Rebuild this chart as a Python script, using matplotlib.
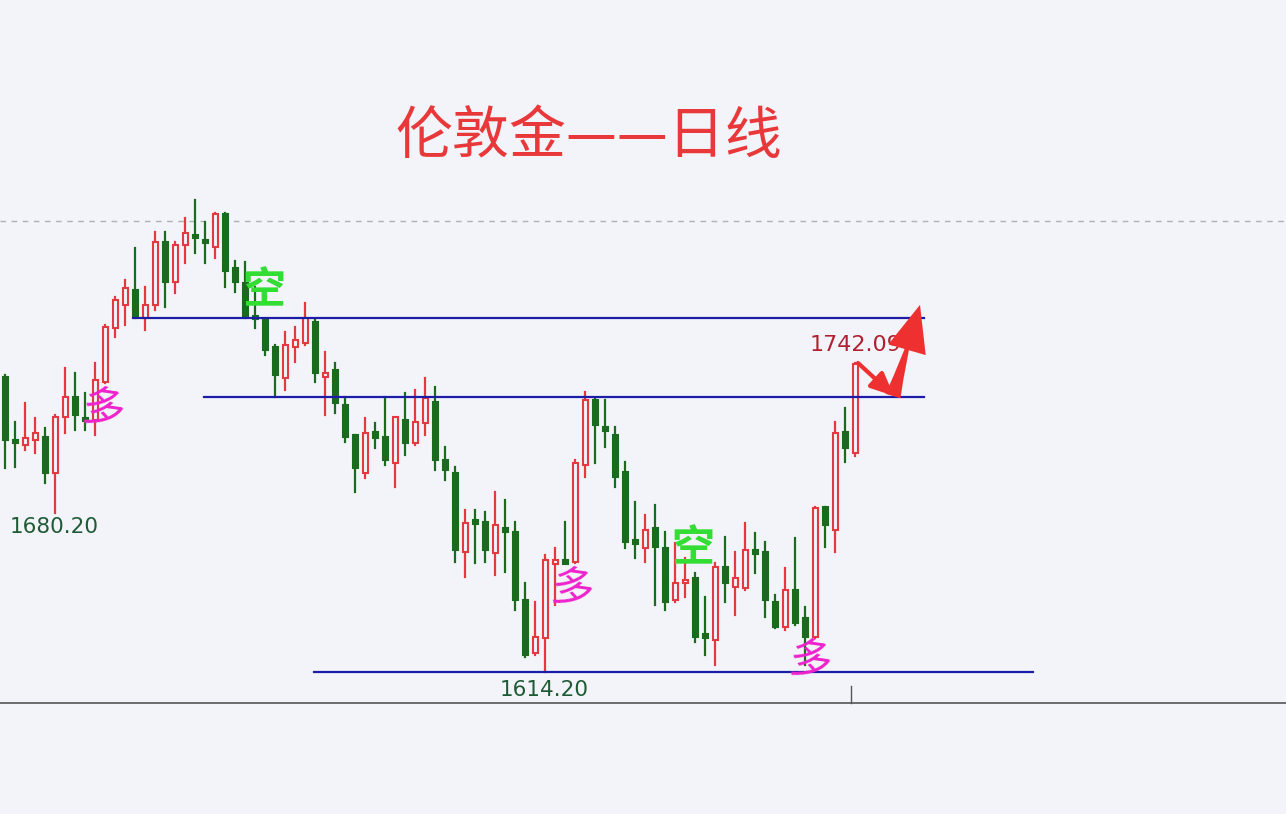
import matplotlib
matplotlib.use('Agg')
import matplotlib.pyplot as plt
from matplotlib.patches import Rectangle

plt.rcParams['font.family'] = ['Noto Sans CJK SC', 'DejaVu Sans']

# 日线 OHLC
opens = [1736.5, 1710.4, 1708.3, 1710.4, 1711.6, 1696.7, 1719.9, 1728.2, 1719.5, 1718.7,
         1734.4, 1756.8, 1766.4, 1772.6, 1761.0, 1766.4, 1792.5, 1775.9, 1791.2, 1795.4,
         1793.3, 1790.4, 1804.1, 1781.7, 1775.5, 1761.8, 1760.1, 1749.0, 1736.1, 1749.0,
         1750.6, 1759.3, 1736.9, 1739.4, 1724.9, 1712.5, 1696.7, 1713.7, 1711.6, 1700.9,
         1718.7, 1709.1, 1717.4, 1726.1, 1702.1, 1696.7, 1664.0, 1676.8, 1676.4, 1663.5,
         1673.5, 1672.2, 1644.1, 1622.1, 1628.3, 1659.4, 1660.2, 1659.8, 1700.0, 1727.0,
         1715.4, 1712.5, 1697.1, 1668.5, 1665.6, 1673.9, 1665.6, 1644.1, 1651.1, 1653.2,
         1629.5, 1627.5, 1657.7, 1649.4, 1649.0, 1664.4, 1664.0, 1643.2, 1632.9, 1648.2,
         1636.6, 1628.7, 1682.6, 1673.1, 1713.7, 1705.0]
highs = [1737.3, 1717.9, 1725.7, 1719.5, 1715.4, 1720.8, 1740.2, 1738.2, 1729.9, 1742.3,
         1758.1, 1769.7, 1776.7, 1790.0, 1773.8, 1796.6, 1796.6, 1792.5, 1802.4, 1809.9,
         1800.8, 1804.5, 1804.5, 1784.6, 1784.2, 1773.8, 1760.6, 1749.8, 1755.2, 1757.2,
         1767.2, 1760.6, 1746.9, 1742.3, 1728.2, 1712.5, 1719.5, 1717.4, 1728.2, 1719.9,
         1729.9, 1731.1, 1736.1, 1732.4, 1707.5, 1699.2, 1681.4, 1681.4, 1680.5, 1688.8,
         1685.5, 1676.4, 1651.1, 1643.2, 1662.7, 1665.6, 1676.4, 1702.1, 1730.3, 1727.8,
         1727.0, 1715.8, 1701.3, 1684.7, 1679.3, 1683.4, 1672.2, 1667.7, 1661.5, 1655.2,
         1645.3, 1659.4, 1670.2, 1664.0, 1676.0, 1671.8, 1668.1, 1646.1, 1657.3, 1669.8,
         1641.1, 1682.6, 1682.6, 1717.9, 1723.7, 1742.09]
lows = [1698.8, 1699.2, 1706.2, 1705.0, 1692.6, 1680.2, 1713.3, 1714.5, 1714.5, 1712.5,
        1734.0, 1753.1, 1758.1, 1761.0, 1756.0, 1764.3, 1765.5, 1771.3, 1783.8, 1787.9,
        1783.8, 1785.8, 1773.8, 1771.8, 1761.0, 1756.8, 1745.6, 1728.2, 1731.1, 1742.7,
        1749.8, 1734.4, 1720.8, 1721.6, 1709.6, 1688.8, 1694.6, 1707.1, 1700.0, 1690.9,
        1704.2, 1708.3, 1712.5, 1698.0, 1693.8, 1659.8, 1653.6, 1659.4, 1659.8, 1654.4,
        1655.7, 1639.9, 1620.4, 1621.2, 1614.2, 1642.0, 1659.4, 1659.4, 1695.1, 1700.9,
        1707.5, 1690.9, 1665.6, 1661.5, 1659.8, 1642.0, 1639.9, 1643.2, 1645.3, 1626.6,
        1621.2, 1617.1, 1643.2, 1637.8, 1648.2, 1655.2, 1637.0, 1632.4, 1631.6, 1633.7,
        1617.1, 1628.3, 1666.0, 1664.0, 1701.3, 1703.8]
closes = [1710.4, 1709.1, 1711.2, 1713.3, 1696.7, 1719.9, 1728.2, 1720.8, 1718.3, 1735.3,
          1757.2, 1768.4, 1773.4, 1761.4, 1766.4, 1792.5, 1775.9, 1791.2, 1796.2, 1794.1,
          1792.1, 1804.1, 1780.5, 1775.9, 1761.4, 1760.6, 1747.7, 1737.3, 1749.8, 1751.8,
          1761.0, 1738.2, 1737.8, 1725.7, 1711.6, 1698.8, 1713.3, 1711.2, 1702.1, 1719.9,
          1709.1, 1717.9, 1727.8, 1702.1, 1698.0, 1664.8, 1676.0, 1676.0, 1664.8, 1675.1,
          1672.7, 1644.1, 1621.2, 1628.7, 1660.6, 1660.2, 1659.4, 1700.9, 1727.0, 1716.6,
          1714.5, 1695.1, 1668.1, 1667.7, 1673.1, 1666.0, 1643.2, 1651.1, 1652.3, 1628.7,
          1628.7, 1657.7, 1651.1, 1653.2, 1664.8, 1663.5, 1644.1, 1632.9, 1648.2, 1634.5,
          1628.7, 1682.2, 1675.1, 1713.3, 1707.1, 1741.9]

# 水平线（支撑/压力）
levels = [1761.0, 1728.2, 1614.2]
level_start = [12.8, 19.9, 30.9]
level_end = [91.9, 91.9, 102.8]

bg = '#f2f4fa'
up_c = '#e23a3f'
dn_c = '#1b6b1f'

fig = plt.figure(figsize=(12.86, 8.14), dpi=100, facecolor=bg)
ax = fig.add_axes([0, 0, 1, 1])
ax.set_facecolor(bg)
ax.set_xlim(-0.5, 128.1)
ax.set_ylim(1555.3, 1892.8)
ax.axis('off')

w = 0.5
for i in range(len(opens)):
    o, h, l, c = opens[i], highs[i], lows[i], closes[i]
    top, bot = max(o, c), min(o, c)
    if top - bot < 1.2:
        mid = (top + bot) / 2
        top, bot = mid + 0.7, mid - 0.7
    if c >= o:
        ax.plot([i, i], [l, bot], color=up_c, lw=1.6, zorder=2)
        ax.plot([i, i], [top, h], color=up_c, lw=1.6, zorder=2)
        ax.add_patch(Rectangle((i - w / 2, bot), w, top - bot, facecolor=bg,
                               edgecolor=up_c, lw=1.5, zorder=3))
    else:
        ax.plot([i, i], [l, h], color=dn_c, lw=1.6, zorder=2)
        ax.add_patch(Rectangle((i - w / 2, bot), w, top - bot, facecolor=dn_c,
                               edgecolor=dn_c, lw=1.5, zorder=3))

# 网格虚线和底部坐标轴
ax.axhline(1801.2, color='#b0b0b0', lw=1, ls=(0, (4, 4)), zorder=1)
ax.axhline(1601.3, color='#555555', lw=1.2, zorder=1)
ax.plot([84.6, 84.6], [1601.3, 1608.4], color='#555555', lw=1)

for lv, x0, x1 in zip(levels, level_start, level_end):
    ax.plot([x0, x1], [lv, lv], color='#1c1ca8', lw=1.6, zorder=4)

# 标注
ax.text(58.4, 1836.0, '伦敦金——日线', color='#e8383a', fontsize=41,
        ha='center', va='center')
ax.text(4.9, 1674.3, '1680.20', color='#1f5a35', fontsize=15.5, ha='center', va='center',
        family=['DejaVu Sans'])
ax.text(53.9, 1606.7, '1614.20', color='#1f5a35', fontsize=15.5, ha='center', va='center',
        family=['DejaVu Sans'])
ax.text(85.0, 1749.8, '1742.09', color='#b02030', fontsize=16, ha='center', va='center',
        family=['DejaVu Sans'])

for x, y in [(25.9, 1772.6), (68.8, 1665.6)]:
    ax.text(x, y, '空', color='#33dd33', fontsize=31, fontweight='bold',
            ha='center', va='center', zorder=5)
for x, y in [(9.8, 1722.8), (56.7, 1648.2), (80.5, 1618.3)]:
    ax.text(x, y, '多', color='#ee22cc', fontsize=31, ha='center', va='center',
            rotation=-8, zorder=5)

# 红色箭头
ax.annotate('', xy=(88.9, 1728.6), xytext=(85.3, 1742.3),
            arrowprops=dict(arrowstyle='-|>,head_width=0.45,head_length=1.0',
                            color='#ee3030', lw=3, mutation_scale=14, shrinkA=0, shrinkB=0),
            zorder=6)
ax.annotate('', xy=(91.5, 1766.4), xytext=(88.8, 1728.6),
            arrowprops=dict(arrowstyle='wedge,tail_width=0.8,shrink_factor=0.4',
                            color='#ee3030', lw=0, mutation_scale=14, shrinkA=0, shrinkB=14),
            zorder=6)
ax.annotate('', xy=(91.5, 1766.4), xytext=(90.6, 1753.5),
            arrowprops=dict(arrowstyle='simple,head_width=1.0,head_length=1.2,tail_width=0.3',
                            color='#ee3030', lw=0, mutation_scale=28, shrinkA=0, shrinkB=0),
            zorder=6)

fig.savefig('out.png', dpi=100, facecolor=bg)
